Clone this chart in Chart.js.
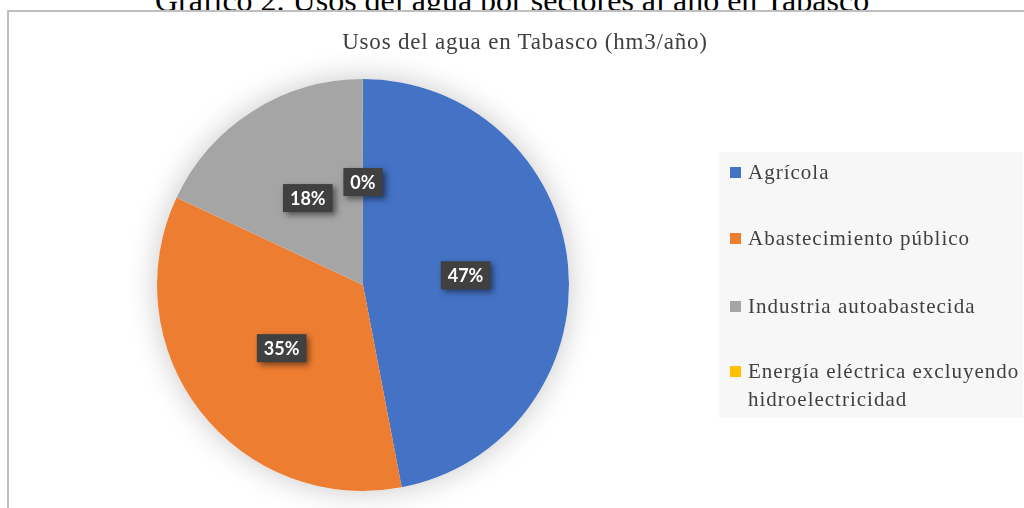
<!DOCTYPE html>
<html>
<head>
<meta charset="utf-8">
<script src="https://cdn.jsdelivr.net/npm/chart.js@4"></script>
<style>
  html, body { margin: 0; padding: 0; background: #fff; }
  #wrap { position: relative; width: 1024px; height: 508px; overflow: hidden; background: #fff; }
  #encabezado { position: absolute; left: 0; top: -16px; width: 1024px; text-align: center;
    font: 32px/32px "Liberation Serif", serif; color: #000; }
  #marco { position: absolute; left: 7px; top: 10px; width: 1040px; height: 520px;
    border: 2px solid #bfbfbf; background: #fff; }
  #grafico { position: absolute; left: 0; top: 0; }
  #titulo { position: absolute; left: 0; top: 29px; width: 1050px; text-align: center;
    font: 23px "Liberation Serif", serif; letter-spacing: 0.8px; color: #404040; }
  #leyenda { position: absolute; left: 719px; top: 152px; width: 304px; height: 266px;
    background: #f7f7f7; }
  .item { position: absolute; left: 11px; width: 292px; font: 21px/28px "Liberation Serif", serif;
    letter-spacing: 1px; color: #404040; }
  .item span.sq { position: absolute; left: 0; top: 9px; width: 11px; height: 11px; }
  .item span.tx { display: block; margin-left: 18px; width: 280px; }
</style>
</head>
<body>
<div id="wrap">
  <div id="encabezado">Gráfico 2. Usos del agua por sectores al año en Tabasco</div>
  <div id="marco"></div>
  <canvas id="grafico" width="1024" height="508"></canvas>
  <div id="titulo">Usos del agua en Tabasco (hm3/año)</div>
  <div id="leyenda"></div>
</div>
<script>
// datos del gráfico
const categorias = ['Agrícola', 'Abastecimiento público', 'Industria autoabastecida', 'Energía eléctrica excluyendo hidroelectricidad'];
const valores = [47, 35, 18, 0.01];
const colores = ['#4472c4', '#ed7d31', '#a5a5a5', '#ffc000'];

const total = valores.reduce((a, b) => a + b, 0);

// sombra suave detras del pastel
const sombraPastel = {
  id: 'sombraPastel',
  beforeDatasetsDraw(chart) {
    const arc = chart.getDatasetMeta(0).data[0];
    const ctx = chart.ctx;
    ctx.save();
    ctx.shadowColor = 'rgba(0,0,0,0.22)';
    ctx.shadowBlur = 30;
    ctx.fillStyle = '#ffffff';
    ctx.beginPath();
    ctx.arc(arc.x, arc.y, arc.outerRadius, 0, Math.PI * 2);
    ctx.fill();
    ctx.restore();
  }
};

// etiquetas de porcentaje en cajas oscuras
const etiquetas = {
  id: 'etiquetas',
  afterDatasetsDraw(chart) {
    const ctx = chart.ctx;
    const meta = chart.getDatasetMeta(0);
    meta.data.forEach((arc, i) => {
      const p = arc.tooltipPosition();
      const txt = Math.round(valores[i] / total * 100) + '%';
      ctx.save();
      ctx.font = 'bold 18px Lato, "Open Sans", sans-serif';
      const w = ctx.measureText(txt).width + 14;
      const h = 28;
      ctx.shadowColor = 'rgba(0,0,0,0.5)';
      ctx.shadowBlur = 6;
      ctx.shadowOffsetX = 3;
      ctx.shadowOffsetY = 3;
      ctx.fillStyle = '#404040';
      ctx.fillRect(p.x - w / 2, p.y - h / 2, w, h);
      ctx.restore();
      ctx.save();
      ctx.font = 'bold 18px Lato, "Open Sans", sans-serif';
      ctx.fillStyle = '#ffffff';
      ctx.textAlign = 'center';
      ctx.textBaseline = 'middle';
      ctx.fillText(txt, p.x, p.y + 1);
      ctx.restore();
    });
  }
};

new Chart(document.getElementById('grafico').getContext('2d'), {
  type: 'pie',
  data: {
    labels: categorias,
    datasets: [{
      data: valores,
      backgroundColor: colores,
      borderWidth: 0
    }]
  },
  options: {
    responsive: false,
    animation: false,
    layout: { padding: { left: 157, right: 455, top: 79, bottom: 17 } },
    plugins: {
      legend: { display: false },
      tooltip: { enabled: false }
    }
  },
  plugins: [sombraPastel, etiquetas]
});

// leyenda
const leyenda = document.getElementById('leyenda');
const filas = [6, 72, 140, 205];
categorias.forEach((c, i) => {
  const d = document.createElement('div');
  d.className = 'item';
  d.style.top = filas[i] + 'px';
  d.innerHTML = '<span class="sq" style="background:' + colores[i] + '"></span><span class="tx">' + c + '</span>';
  leyenda.appendChild(d);
});
</script>
</body>
</html>
